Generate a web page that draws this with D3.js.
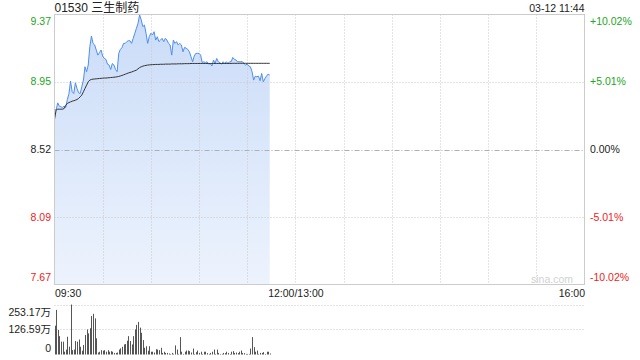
<!DOCTYPE html>
<html><head><meta charset="utf-8">
<script src="https://cdn.jsdelivr.net/npm/d3@7"></script>
<style>body{margin:0;background:#fff}svg{display:block}text{font-family:"Liberation Sans",Arial,"Noto Sans CJK SC",sans-serif}</style>
</head><body><svg id="c" width="640" height="360"></svg>
<script>
const title = "01530 三生制药";
const stamp = "03-12 11:44";
const prevClose = 8.52;
const limitPct = 0.1002;
const priceTicks = [9.37, 8.95, 8.52, 8.09, 7.67];
const pctTicks = ["+10.02%", "+5.01%", "0.00%", "-5.01%", "-10.02%"];
const timeTicks = ["09:30", "12:00/13:00", "16:00"];
const timeTickMinutes = [0, 150, 330];
const totalMinutes = 330;
const volTicks = [253.17, 126.59, 0];
const volTickLabels = ["253.17万", "126.59万", "0"];

const price = [8.773,8.769,8.815,8.794,8.790,8.786,8.794,8.786,8.836,8.874,
8.952,8.885,8.874,8.942,8.906,8.879,8.874,8.917,8.959,9.043,
9.012,9.054,9.170,9.238,9.191,9.181,9.149,9.117,9.132,9.149,
9.111,9.096,9.090,9.060,9.054,9.026,9.064,9.054,9.026,9.012,
9.128,9.153,9.164,9.191,9.191,9.202,9.208,9.208,9.191,9.223,
9.255,9.286,9.318,9.371,9.339,9.297,9.307,9.255,9.191,9.233,
9.255,9.244,9.265,9.212,9.233,9.202,9.212,9.223,9.202,9.223,
9.212,9.191,9.181,9.117,9.212,9.191,9.202,9.181,9.191,9.181,
9.138,9.166,9.160,9.153,9.138,9.107,9.075,9.111,9.128,9.128,
9.128,9.117,9.069,9.075,9.069,9.075,9.060,9.064,9.048,9.086,
9.064,9.096,9.075,9.069,9.060,9.075,9.064,9.075,9.064,9.075,
9.075,9.102,9.090,9.086,9.075,9.075,9.075,9.075,9.064,9.054,
9.060,9.048,9.043,9.012,8.959,8.984,8.980,8.984,8.955,9.001,
8.948,8.969,8.984,8.997,8.990];

const avgPrice = [8.710,8.769,8.775,8.775,8.775,8.775,8.779,8.800,8.811,8.817,
8.821,8.826,8.828,8.832,8.836,8.843,8.853,8.864,8.885,8.906,
8.927,8.948,8.959,8.963,8.965,8.966,8.967,8.968,8.969,8.970,
8.971,8.972,8.972,8.973,8.974,8.975,8.976,8.977,8.978,8.980,
8.982,8.985,8.988,8.992,8.996,9.000,9.004,9.007,9.010,9.014,
9.018,9.022,9.030,9.038,9.043,9.047,9.050,9.052,9.054,9.055,
9.056,9.057,9.057,9.058,9.058,9.058,9.059,9.059,9.059,9.060,
9.060,9.060,9.060,9.061,9.061,9.061,9.061,9.062,9.062,9.062,
9.062,9.063,9.063,9.063,9.063,9.064,9.064,9.064,9.064,9.064,
9.064,9.064,9.064,9.064,9.064,9.064,9.064,9.064,9.064,9.064,
9.064,9.064,9.064,9.064,9.064,9.064,9.064,9.064,9.064,9.064,
9.064,9.065,9.065,9.065,9.065,9.065,9.065,9.065,9.065,9.065,
9.065,9.065,9.065,9.065,9.065,9.065,9.065,9.065,9.065,9.065,
9.065,9.065,9.065,9.065,9.065];

const volume = [146,226,124,93,65,65,14,25,90,40,
253,22,25,68,65,76,39,19,48,99,
127,107,133,195,206,183,82,10,14,22,
19,22,14,22,14,17,14,8,8,10,
25,31,39,51,53,70,93,68,51,93,
127,150,165,136,110,73,34,42,19,42,
14,14,10,27,25,22,34,8,14,8,
8,5,3,8,3,46,25,3,88,14,
3,14,20,20,17,10,30,3,12,20,
8,14,3,14,14,7,3,8,14,25,
3,25,8,3,3,8,7,14,8,3,
14,17,8,10,7,14,20,8,7,3,
3,3,30,88,37,14,20,3,8,8,
12,3,14,14,5];

const svg = d3.select("#c");
const L = 54.5, R = 584.5, T = 14.5, B = 284.5;
const VT = 304.5, VB = 354.5;

const x = d3.scaleLinear().domain([0, totalMinutes]).range([L, R]);
const y = d3.scaleLinear().domain([prevClose*(1-limitPct), prevClose*(1+limitPct)]).range([B, T]);
const yv = d3.scaleLinear().domain([0, volTicks[0]]).range([VB, VT]);

const green = "#22a622", red = "#ee2222";
const colorFor = i => i < 2 ? green : (i === 2 ? "#222" : red);

const defs = svg.append("defs");
const g = defs.append("linearGradient").attr("id","ag").attr("gradientUnits","userSpaceOnUse")
  .attr("x1",0).attr("y1",T).attr("x2",0).attr("y2",B);
g.append("stop").attr("offset","0").attr("stop-color","#cadcf8");
g.append("stop").attr("offset","1").attr("stop-color","#edf3fd");

const idx = d3.range(price.length);
svg.append("path").datum(idx)
  .attr("d", d3.area().x(i => x(i)).y0(B).y1(i => y(price[i])))
  .attr("fill", "url(#ag)");

const vgrid = d3.range(30, totalMinutes, 30);
svg.append("g").selectAll("line").data(vgrid).join("line")
  .attr("x1", d => Math.round(x(d)) + 0.5).attr("x2", d => Math.round(x(d)) + 0.5)
  .attr("y1", T).attr("y2", B)
  .attr("stroke", "#c8c8c8").attr("stroke-dasharray", "1,2");

svg.append("g").selectAll("line").data(priceTicks.slice(1, 4)).join("line")
  .attr("x1", L).attr("x2", R)
  .attr("y1", (d) => Math.round(y(d)) + 0.5).attr("y2", d => Math.round(y(d)) + 0.5)
  .attr("stroke", (d, i) => i === 1 ? "#b0b0b0" : "#c8c8c8")
  .attr("stroke-dasharray", (d, i) => i === 1 ? "5,2,1,2" : "1,2");

svg.append("path").datum(idx)
  .attr("d", d3.line().x(i => x(i)).y(i => y(price[i])))
  .attr("fill", "none").attr("stroke", "#4d8ef0").attr("stroke-width", 1);
svg.append("path").datum(idx)
  .attr("d", d3.line().x(i => x(i)).y(i => y(avgPrice[i])))
  .attr("fill", "none").attr("stroke", "#333").attr("stroke-width", 1);

svg.append("rect").attr("x", L).attr("y", T).attr("width", R - L).attr("height", B - T)
  .attr("fill", "none").attr("stroke", "#cccccc");

svg.append("text").attr("x", 573).attr("y", 282.5).attr("text-anchor", "end")
  .attr("font-size", 10.5).attr("fill", "#d2d2d2").text("sina.com");

const fs = 10.5;
svg.append("g").selectAll("text").data(priceTicks).join("text")
  .attr("x", 51).attr("text-anchor", "end").attr("font-size", fs)
  .attr("y", (d, i) => i === 0 ? y(d) + 9.5 : (i === 4 ? y(d) - 2.5 : y(d) + 3.8))
  .attr("fill", (d, i) => colorFor(i)).text(d => d.toFixed(2));

svg.append("g").selectAll("text").data(pctTicks).join("text")
  .attr("x", 590).attr("font-size", fs)
  .attr("y", (d, i) => { const v = y(priceTicks[i]); return i === 0 ? v + 9.5 : (i === 4 ? v - 2.5 : v + 3.8); })
  .attr("fill", (d, i) => colorFor(i)).text(d => d);

const ax = svg.append("g").attr("transform", `translate(0,${B})`)
  .call(d3.axisBottom(x).tickValues(timeTickMinutes).tickSize(0).tickPadding(0)
    .tickFormat((d, i) => timeTicks[i]));
ax.select(".domain").remove();
ax.selectAll("text").attr("font-size", fs).attr("fill", "#222").attr("font-family", null)
  .attr("dy", null).attr("y", 12)
  .attr("text-anchor", (d, i) => i === 0 ? "start" : (i === 2 ? "end" : "middle"));

svg.append("text").attr("x", L).attr("y", 12).attr("font-size", 12).attr("fill", "#222").text(title);
svg.append("text").attr("x", R).attr("y", 11.5).attr("text-anchor", "end").attr("font-size", fs).attr("fill", "#222").text(stamp);

svg.append("g").selectAll("line").data(volTicks.slice(0, 2)).join("line")
  .attr("x1", L).attr("x2", R)
  .attr("y1", d => Math.round(yv(d)) + 0.5).attr("y2", d => Math.round(yv(d)) + 0.5)
  .attr("stroke", "#c8c8c8").attr("stroke-dasharray", "1,2");

svg.append("g").selectAll("rect").data(volume).join("rect")
  .attr("x", (d, i) => Math.round(x(i)))
  .attr("width", 1)
  .attr("y", d => yv(d)).attr("height", d => VB - yv(d))
  .attr("fill", "#555");

svg.append("g").selectAll("text").data(volTicks).join("text")
  .attr("x", 51).attr("text-anchor", "end").attr("font-size", fs).attr("fill", "#222")
  .attr("y", (d, i) => i === 0 ? yv(d) + 11 : (i === 2 ? yv(d) - 3 : yv(d) + 4))
  .text((d, i) => volTickLabels[i]);
</script></body></html>
